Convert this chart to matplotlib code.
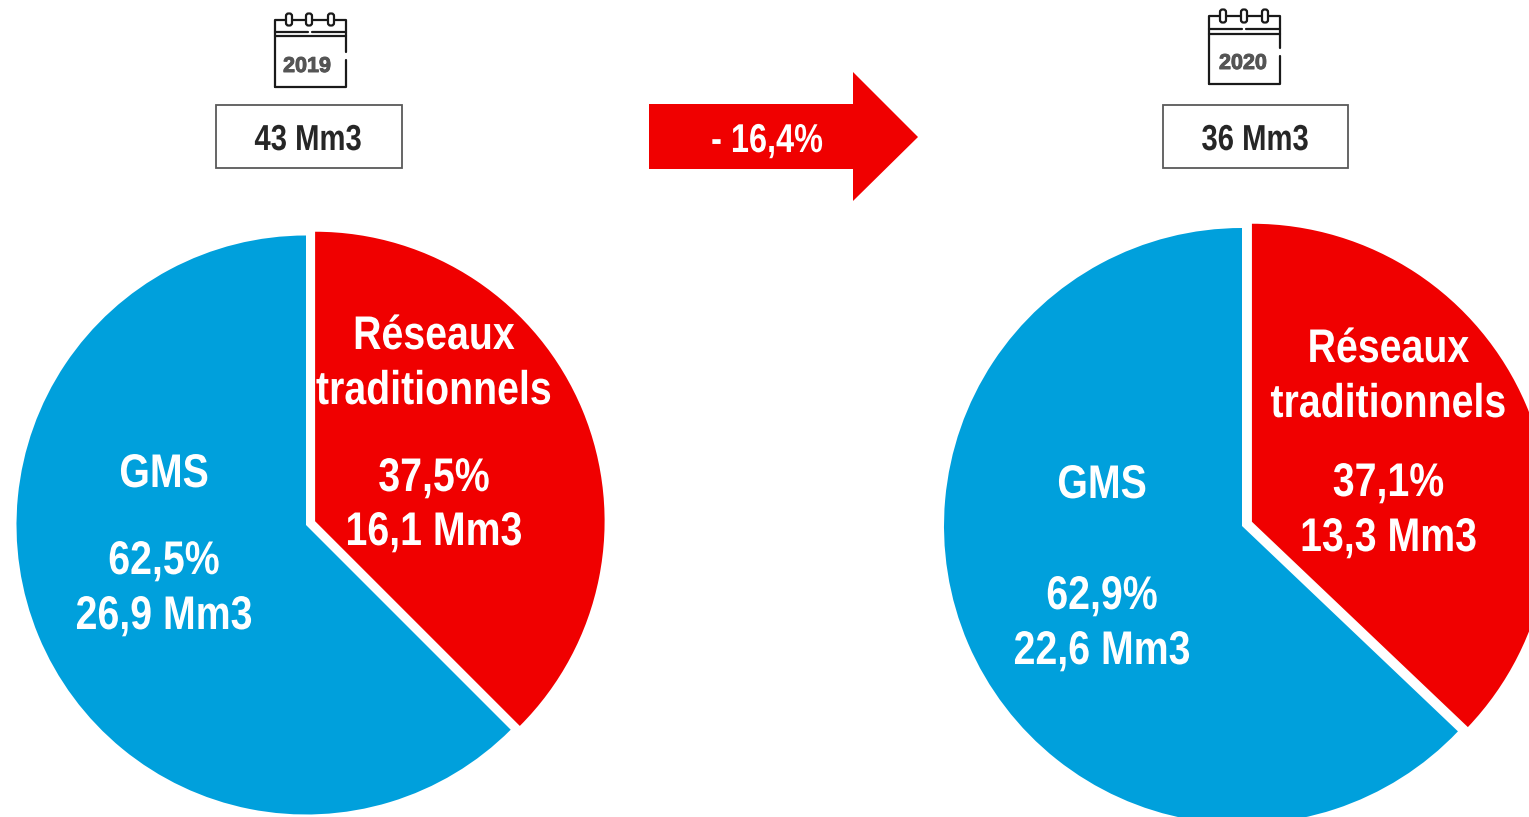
"""Parts de marché GMS / réseaux traditionnels, 2019 vs 2020."""
import matplotlib
matplotlib.use("Agg")
import matplotlib.pyplot as plt
from matplotlib.patches import FancyBboxPatch, Polygon, Rectangle
from matplotlib.patheffects import AbstractPathEffect, withStroke
from matplotlib.transforms import Affine2D

W, H = 1529, 817
RED = "#F00000"
BLUE = "#00A0DC"
INK = "#1a1a1a"

plt.rcParams["font.family"] = ["Liberation Sans", "DejaVu Sans"]

# valeurs
years = ["2019", "2020"]
totals = ["43 Mm3", "36 Mm3"]
change = "- 16,4%"
segment_blue = "GMS"
segment_red = ["Réseaux", "traditionnels"]
shares_2019 = [62.5, 37.5]
shares_2020 = [62.9, 37.1]
volumes_2019 = [26.9, 16.1]
volumes_2020 = [22.6, 13.3]


class Narrow(AbstractPathEffect):
    """Resserre le texte autour de son centre (pas d'Arial Narrow installée)."""

    def __init__(self, cx, sx):
        super().__init__()
        self.cx, self.sx = cx, sx

    def draw_path(self, renderer, gc, tpath, affine, rgbFace=None):
        squeeze = Affine2D().translate(-self.cx, 0).scale(self.sx, 1).translate(self.cx, 0)
        renderer.draw_path(gc, tpath, affine + squeeze, rgbFace)


def fr(v):
    return f"{v:.1f}".replace(".", ",")


def label(ax, x, baseline, s, size=34, sx=0.832, color="white"):
    ax.text(x, H - baseline, s, ha="center", va="baseline", fontsize=size, color=color,
            fontweight="bold", path_effects=[Narrow(x, sx)])


def draw_pie(ax, shares, cx, cy, r, offset):
    # rouge d'abord pour partir de midi dans le sens horaire
    ax.pie(shares[::-1], colors=[RED, BLUE], startangle=90, counterclock=False,
           center=(cx, H - cy), radius=r, explode=[offset, 0])


def calendar(ax, x0, x1, y0, y1, line_ys, ring_xs, ring_y0, ring_y1, year, year_x, year_base):
    kw = dict(color=INK, lw=1.6, solid_capstyle="round", solid_joinstyle="round")
    gap0, gap1 = y0 + 32, y0 + 40
    ax.plot([x0, x0, x1, x1], [H - y1, H - y0, H - y0, H - gap0], **kw)
    ax.plot([x0, x1, x1], [H - y1, H - y1, H - gap1], **kw)
    # ligne haute coupée au milieu, ligne basse continue
    ax.plot([x0, x0 + 33], [H - line_ys[0]] * 2, **kw)
    ax.plot([x0 + 37, x1], [H - line_ys[0]] * 2, **kw)
    ax.plot([x0, x1], [H - line_ys[1]] * 2, **kw)
    for x in ring_xs:
        ax.add_patch(FancyBboxPatch((x - 1.5, H - ring_y1 + 2), 3, ring_y1 - ring_y0 - 4,
                                    boxstyle="round,pad=1.5,rounding_size=2.5", fc="white",
                                    ec=INK, lw=1.6, zorder=3))
    ax.text(year_x, H - year_base, year, ha="center", va="baseline", fontsize=15.5,
            color="#555555", fontweight="bold",
            path_effects=[withStroke(linewidth=0.7, foreground="#555555")])


def main():
    fig = plt.figure(figsize=(W / 100, H / 100), dpi=100)
    ax = fig.add_axes([0, 0, 1, 1])

    draw_pie(ax, shares_2019, 306, 525, 289.5, 9.85)
    draw_pie(ax, shares_2020, 1242, 526, 298, 10.8)

    ax.set_xlim(0, W)
    ax.set_ylim(0, H)
    ax.set_aspect("equal")
    ax.axis("off")

    # flèche de variation
    ax.add_patch(Polygon([(649, H - 104), (853, H - 104), (853, H - 72), (918, H - 137),
                          (853, H - 201), (853, H - 169), (649, H - 169)],
                         closed=True, fc=RED, ec="none"))
    label(ax, 767, 152, change, size=29, sx=0.806)

    # encadrés des totaux
    for x0, x1, total, xt in [(215.5, 402, totals[0], 308), (1162.5, 1348, totals[1], 1255)]:
        ax.add_patch(Rectangle((x0, H - 168), x1 - x0, 63, fc="white", ec="#595959", lw=1.3))
        label(ax, xt, 150, total, size=26, sx=0.81, color="#262626")

    calendar(ax, 275, 346, 20, 87, [32, 36], [289, 309, 331], 13, 26, years[0], 307, 72)
    calendar(ax, 1209, 1280, 16, 84, [29, 34], [1223, 1244, 1265], 9, 23, years[1], 1243, 69)

    # libellés 2019
    label(ax, 434, 349, segment_red[0])
    label(ax, 434, 404, segment_red[1])
    label(ax, 434, 491, f"{fr(shares_2019[1])}%")
    label(ax, 434, 545, f"{fr(volumes_2019[1])} Mm3")
    label(ax, 164, 487, segment_blue)
    label(ax, 164, 574, f"{fr(shares_2019[0])}%")
    label(ax, 164, 629, f"{fr(volumes_2019[0])} Mm3")

    # libellés 2020
    label(ax, 1388.5, 362, segment_red[0])
    label(ax, 1388.5, 417, segment_red[1])
    label(ax, 1388.5, 496, f"{fr(shares_2020[1])}%")
    label(ax, 1388.5, 551, f"{fr(volumes_2020[1])} Mm3")
    label(ax, 1102, 498, segment_blue)
    label(ax, 1102, 609, f"{fr(shares_2020[0])}%")
    label(ax, 1102, 664, f"{fr(volumes_2020[0])} Mm3")

    fig.savefig("out.png", dpi=100, facecolor="white")


if __name__ == "__main__":
    main()
